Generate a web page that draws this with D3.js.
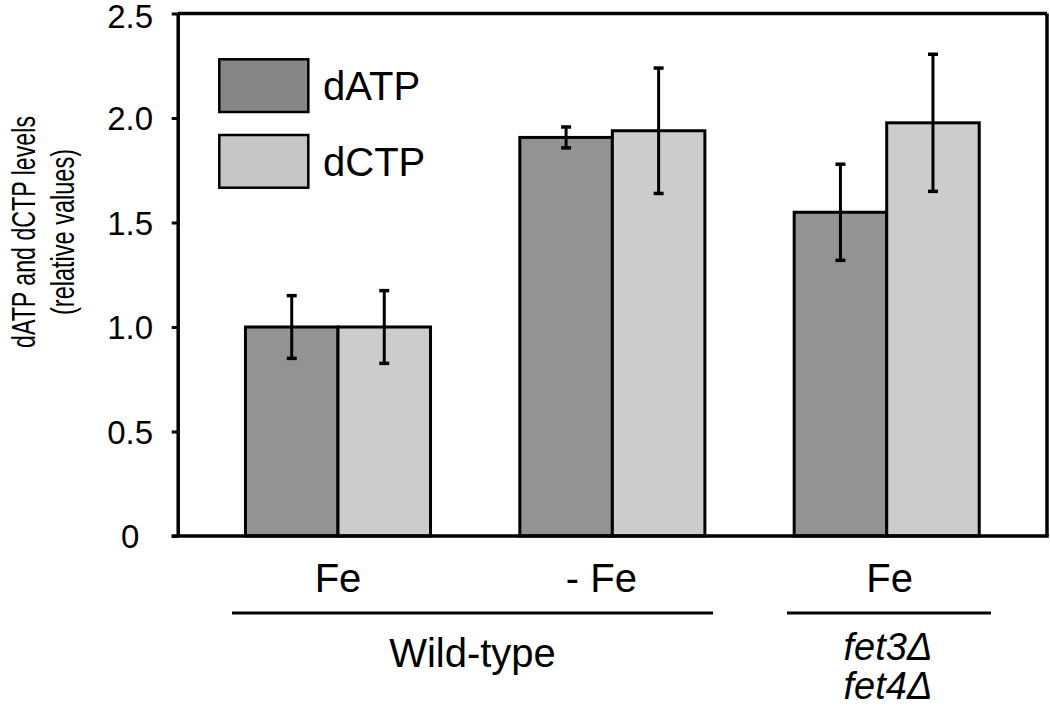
<!DOCTYPE html>
<html>
<head>
<meta charset="utf-8">
<script src="https://cdn.jsdelivr.net/npm/d3@7"></script>
<style>
  html, body { margin: 0; padding: 0; background: #fff; }
  svg { display: block; font-family: "Liberation Sans", Arial, sans-serif; }
</style>
</head>
<body>
<svg id="chart" width="1050" height="709"></svg>
<script>
// ---- data ----
const groups = ["WT Fe", "WT -Fe", "fet3 fet4 Fe"];
const groupLabels = ["Fe", "- Fe", "Fe"];
const seriesNames = ["dATP", "dCTP"];
const dATP = [1.00, 1.907, 1.549];
const dATPerr = [0.15, 0.05, 0.23];
const dCTP = [1.00, 1.939, 1.977];
const dCTPerr = [0.174, 0.30, 0.328];
const yTicks = [0, 0.5, 1.0, 1.5, 2.0, 2.5];
const yTickLabels = ["0", "0.5", "1.0", "1.5", "2.0", "2.5"];

const barColors = ["#939393", "#cccccc"];
const legendColors = ["#868686", "#c6c6c6"];

const svg = d3.select("#chart");
const plotLeft = 177.7, plotRight = 1047, plotTop = 13.5, plotBottom = 536;

const y = d3.scaleLinear().domain([0, 2.5]).range([plotBottom, plotTop]);
const x0 = d3.scaleBand().domain(groups).range([plotLeft, plotRight])
  .paddingInner(0.3255).paddingOuter(0.247);
const x1 = d3.scaleBand().domain(seriesNames).range([0, x0.bandwidth()]);

const values = [dATP, dCTP];
const errs = [dATPerr, dCTPerr];

const rows = [];
groups.forEach((g, gi) => seriesNames.forEach((s, si) => {
  rows.push({ g, s, si, v: values[si][gi], e: errs[si][gi] });
}));

// bars
svg.append("g").selectAll("rect").data(rows).join("rect")
  .attr("x", d => x0(d.g) + x1(d.s))
  .attr("y", d => y(d.v))
  .attr("width", x1.bandwidth())
  .attr("height", d => y(0) - y(d.v))
  .attr("fill", d => barColors[d.si])
  .attr("stroke", "#000")
  .attr("stroke-width", 3);

// error bars
const eg = svg.append("g").attr("stroke", "#000");
rows.forEach(d => {
  const cx = x0(d.g) + x1(d.s) + x1.bandwidth() / 2;
  eg.append("line").attr("x1", cx).attr("x2", cx)
    .attr("y1", y(d.v + d.e)).attr("y2", y(d.v - d.e)).attr("stroke-width", 3);
  [d.v + d.e, d.v - d.e].forEach(val => {
    eg.append("line").attr("x1", cx - 5).attr("x2", cx + 5)
      .attr("y1", y(val)).attr("y2", y(val)).attr("stroke-width", 3.5);
  });
});

// frame: top, right, bottom
svg.append("line").attr("x1", plotLeft).attr("x2", plotRight).attr("y1", y(2.5)).attr("y2", y(2.5))
  .attr("stroke", "#000").attr("stroke-width", 3.5);
svg.append("line").attr("x1", plotRight).attr("x2", plotRight).attr("y1", y(2.5)).attr("y2", y(0))
  .attr("stroke", "#000").attr("stroke-width", 3.5);
svg.append("line").attr("x1", plotLeft - 6).attr("x2", plotRight + 1.75).attr("y1", y(0)).attr("y2", y(0))
  .attr("stroke", "#000").attr("stroke-width", 3.5);

// y axis
const yAxis = d3.axisLeft(y).tickValues(yTicks).tickSize(6).tickSizeOuter(0)
  .tickFormat((d, i) => yTickLabels[i]);
const ya = svg.append("g").attr("transform", `translate(${plotLeft},0)`).call(yAxis);
ya.select(".domain").attr("stroke", "#000").attr("stroke-width", 3.5);
ya.selectAll(".tick text").attr("x", -47.5).attr("text-anchor", "middle").attr("dy", "0.35em")
  .attr("font-size", 33).attr("font-family", "Liberation Sans, Arial, sans-serif").attr("fill", "#000");
ya.selectAll(".tick line").attr("stroke", "#000").attr("stroke-width", 3);
ya.selectAll(".tick").filter(d => d === 2.5).select("text").attr("dy", "0.42em");

// y title (condensed face)
const yt = svg.append("text").attr("transform", "translate(0,232) rotate(-90)")
  .attr("text-anchor", "middle").attr("font-size", 33).attr("fill", "#000");
yt.append("tspan").attr("x", 0).attr("y", 35).attr("textLength", 232)
  .attr("lengthAdjust", "spacingAndGlyphs").text("dATP and dCTP levels");
yt.append("tspan").attr("x", 0).attr("y", 74).attr("textLength", 166)
  .attr("lengthAdjust", "spacingAndGlyphs").text("(relative values)");

// legend
const lg = svg.append("g");
seriesNames.forEach((s, i) => {
  const ly = 59.3 + i * 75.7;
  lg.append("rect").attr("x", 219.3).attr("y", ly).attr("width", 89).attr("height", 52.7)
    .attr("fill", legendColors[i]).attr("stroke", "#000").attr("stroke-width", 2.5);
  lg.append("text").attr("x", 323).attr("y", ly + 40.7).attr("font-size", 40).attr("fill", "#000").text(s);
});

// category labels
const labelOffsets = [0, -11, 3];
groups.forEach((g, i) => {
  svg.append("text").attr("x", x0(g) + x0.bandwidth() / 2 + labelOffsets[i]).attr("y", 592)
    .attr("text-anchor", "middle").attr("font-size", 40).attr("fill", "#000").text(groupLabels[i]);
});

// group lines
const gl = svg.append("g").attr("stroke", "#000").attr("stroke-width", 3);
gl.append("line").attr("x1", 232).attr("x2", 713).attr("y1", 613).attr("y2", 613);
gl.append("line").attr("x1", 787).attr("x2", 991).attr("y1", 613).attr("y2", 613);

svg.append("text").attr("x", (232 + 713) / 2).attr("y", 667).attr("text-anchor", "middle")
  .attr("font-size", 40).attr("fill", "#000").text("Wild-type");
const ft = svg.append("text").attr("text-anchor", "middle")
  .attr("font-size", 38).attr("font-style", "italic").attr("fill", "#000");
ft.append("tspan").attr("x", 888).attr("y", 660).text("fet3Δ");
ft.append("tspan").attr("x", 888).attr("y", 699).text("fet4Δ");
</script>
</body>
</html>
